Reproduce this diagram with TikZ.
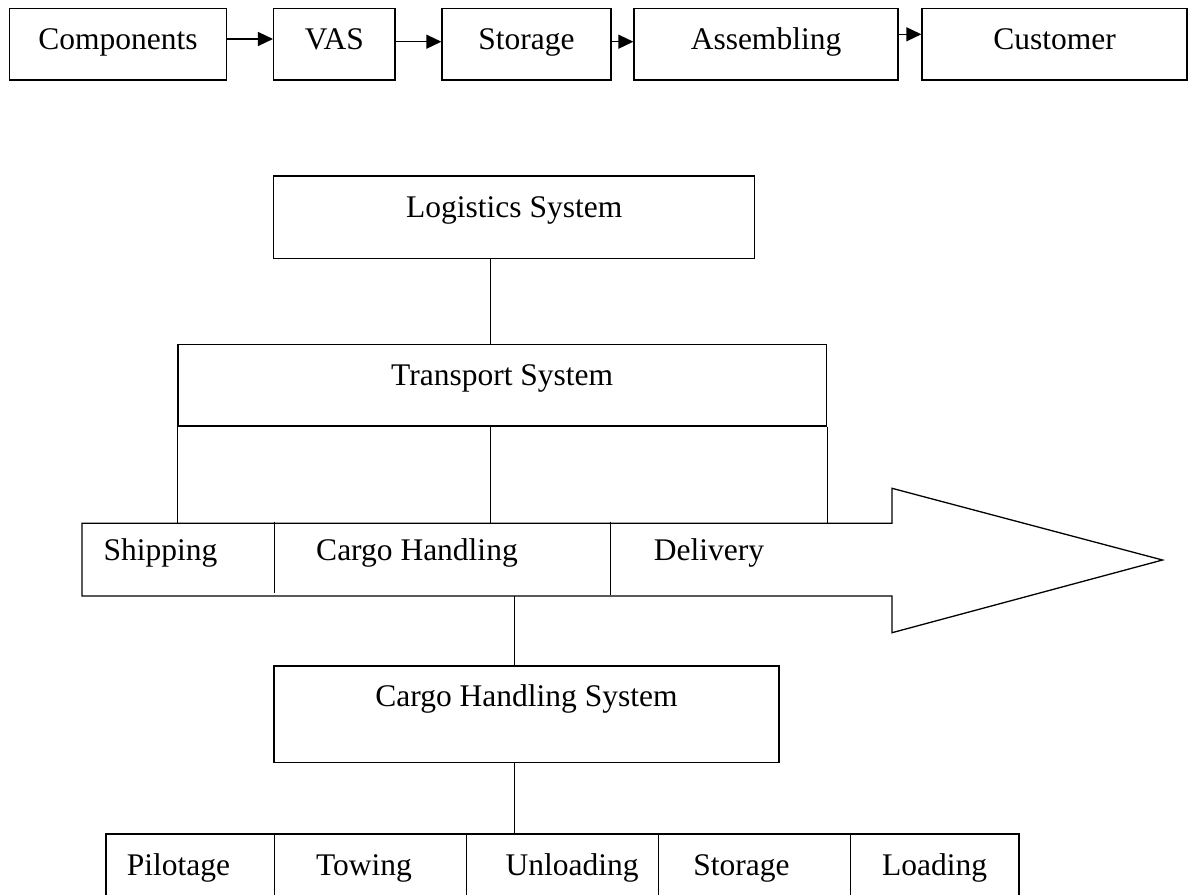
\documentclass[tikz,border=0pt]{standalone}
\usepackage{fontspec}
\setmainfont{Liberation Serif}
\usetikzlibrary{arrows.meta}

\tikzset{
  base/.style={font=\fontsize{31.5}{38}\selectfont, inner sep=0pt},
  box/.style={base, draw, line width=1.3pt, rectangle},
  toprow/.style={box, minimum height=71.7pt, text height=22pt, text depth=12.4pt},
  sysbox/.style={box, text height=16pt, text depth=16pt},
  cell/.style={draw, line width=1.3pt, rectangle, inner sep=0pt, minimum height=100pt},
  label/.style={base, anchor=base},
  link/.style={line width=1.3pt},
  flow/.style={link, -{Triangle[length=15pt, width=14pt]}}
}

\begin{document}
\begin{tikzpicture}[x=1pt, y=-1pt]
  \fill[white] (0,0) rectangle (1193,894);
  \clip (0,0) rectangle (1193,894);

  % supply chain
  \node[toprow, minimum width=217pt]   (comp) at (118.1,44.2) {Components};
  \node[toprow, minimum width=121.4pt] (vas)  at (334.3,44.2) {VAS};
  \node[toprow, minimum width=169pt]   (stor) at (526.5,44.2) {Storage};
  \node[toprow, minimum width=264pt]   (asm)  at (766,44.2)   {Assembling};
  \node[toprow, minimum width=265pt]   (cust) at (1054.5,44.2) {Customer};

  \coordinate (r1) at (0,39);
  \coordinate (r2) at (0,41.7);
  \coordinate (r3) at (0,34.3);
  \draw[flow] (comp.east |- r1) -- (vas.west |- r1);
  \draw[flow] (vas.east |- r2)  -- (stor.west |- r2);
  \draw[flow] (stor.east |- r2) -- (asm.west |- r2);
  \draw[flow] (asm.east |- r3)  -- (cust.west |- r3);

  % system hierarchy
  \node[sysbox, minimum width=480.8pt, minimum height=82.3pt] (log)   at (514.2,217.2) {Logistics System};
  \node[sysbox, minimum width=648.6pt, minimum height=81.7pt] (trans) at (502.2,385.2) {Transport System};

  \coordinate (m1) at (490.8,0);
  \draw[link] (log.south -| m1) -- (trans.north -| m1);

  % process arrow
  \coordinate (atl) at (82,523.3);
  \coordinate (abl) at (82,596);
  \coordinate (ahb) at (892,523.3);
  \coordinate (aht) at (892,488.3);
  \coordinate (atip) at (1162.5,560);
  \coordinate (ahd) at (892,632.7);
  \coordinate (abb) at (892,596);
  \draw[link, line join=miter] (atl) -- (ahb) -- (aht) -- (atip) -- (ahd) -- (abb) -- (abl) -- cycle;
  \draw[link] (274.3,521.7) -- (274.3,592.7);
  \draw[link] (610.3,521.7) -- (610.3,595);

  \node[label] (ship) at (160.5,560) {Shipping};
  \node[label] (ch)   at (417,560)   {Cargo Handling};
  \node[label] (del)  at (709,560)   {Delivery};

  \coordinate (m2) at (490.5,0);
  \draw[link] (trans.south west) -- (trans.south west |- atl);
  \draw[link] (trans.south -| m2) -- (m2 |- atl);
  \draw[link] (trans.south east) -- (trans.south east |- atl);

  % cargo handling
  \node[sysbox, minimum width=505pt, minimum height=96.5pt, text depth=30.6pt] (chs) at (526.5,714.2) {Cargo Handling System};
  \coordinate (m3) at (514.6,0);
  \draw[link] (m3 |- abl) -- (chs.north -| m3);

  % handling steps
  \node[cell, minimum width=168.3pt] (pil) at (190.15,884) {};
  \node[cell, minimum width=192.4pt] (tow) at (370.5,884) {};
  \node[cell, minimum width=191.6pt] (unl) at (562.5,884) {};
  \node[cell, minimum width=192.4pt] (sto) at (754.5,884) {};
  \node[cell, minimum width=168.3pt] (lod) at (934.85,884) {};
  \draw[link] (chs.south -| m3) -- (unl.north -| m3);

  \node[label] (tpil) at (178.4,875) {Pilotage};
  \node[label] (ttow) at (364,875)   {Towing};
  \node[label] (tunl) at (572,875)   {Unloading};
  \node[label] (tsto) at (741.5,875) {Storage};
  \node[label] (tlod) at (934.5,875) {Loading};
\end{tikzpicture}
\end{document}
